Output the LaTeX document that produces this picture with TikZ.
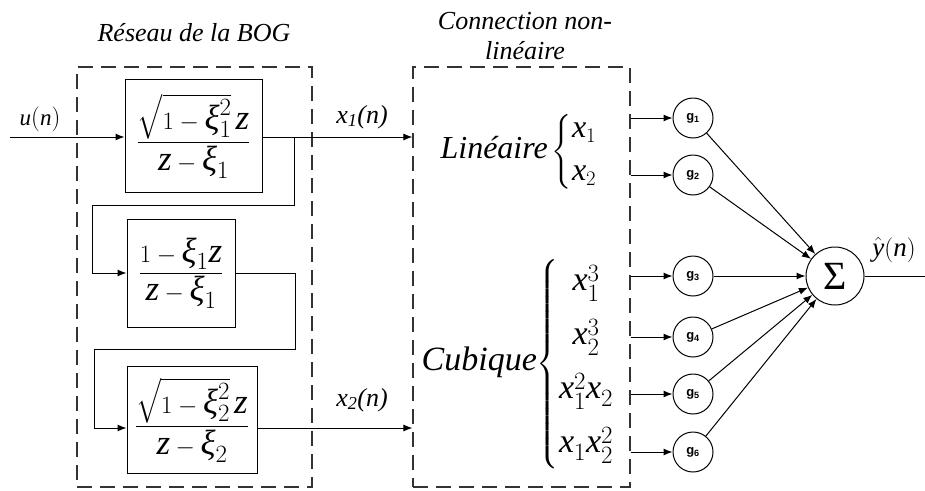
\documentclass[tikz,border=0pt]{standalone}
\usepackage{amsmath}
\usepackage{fontspec}
\setmainfont{Liberation Serif}
\setsansfont{Liberation Sans}
\usepackage{tikz}
\usetikzlibrary{arrows.meta,positioning,calc}
\definecolor{bogDash}{HTML}{333333}
\newcommand{\fsz}[1]{\fontsize{#1}{1.15\dimexpr #1pt\relax}\selectfont}
\newcommand{\vx}{\mathit{x}}
\newcommand{\vz}{\mathit{z}}
\newcommand{\vxi}{\textit{ξ}}

\begin{document}
\begin{tikzpicture}[x=1pt,y=-1pt,line width=1pt,
    arr/.style={-{Latex[length=9pt,width=7pt]}},
    dashbox/.style={draw=bogDash,line width=1.2pt,dash pattern=on 15pt off 8pt,
                    inner sep=0pt,minimum width=#1},
    blk/.style={draw,inner sep=0pt,font=\fsz{35}},
    gnode/.style={circle,draw,minimum size=40pt,inner sep=0pt,
                  font=\sffamily\bfseries\fsz{13}},
    lbl/.style={font=\fsz{26}}]
  \useasboundingbox (0,0) rectangle (925,490);

  % dashed groups
  \node[dashbox=235pt,minimum height=420pt] (bog) at (194.5,277) {};
  \node[dashbox=217pt,minimum height=420pt] (nlc) at (521.5,277) {};
  \node[lbl] (tbog) at (194,33) {\textit{Réseau de la BOG}};
  \node[lbl,align=center] (tnlc) at (525,36) {\textit{Connection non-}\\\textit{linéaire}};

  % filter bank
  \node[blk,minimum width=137pt,minimum height=113pt] (b1) at (193.5,136)
    {$\dfrac{\sqrt{1-\vxi_1^2}\,\vz}{\vz-\vxi_1}$};
  \node[blk,minimum width=108pt,minimum height=108pt] (b2) at (181,273)
    {$\dfrac{1-\vxi_1 \vz}{\vz-\vxi_1}$};
  \node[blk,minimum width=130pt,minimum height=107pt] (b3) at (192,420)
    {$\dfrac{\sqrt{1-\vxi_2^2}\,\vz}{\vz-\vxi_2}$};

  \coordinate (in) at (10,137);
  \coordinate (br1) at (294,137);
  \coordinate (fb1) at (92,205);
  \coordinate (r2) at (295,349);
  \coordinate (fb2) at (94,349);
  \coordinate (b3in) at (b3.west |- 0,428);

  \node[font=\fsz{23}] (lu) at (40,119) {$\mathit{u}(\mathit{n})$};
  \node[lbl] (lx1) at (362,117) {\textit{x\textsubscript{1}(n)}};
  \node[lbl] (lx2) at (362,400) {\textit{x\textsubscript{2}(n)}};

  \draw[arr] (in) -- (in -| b1.west);
  \draw[arr] (b1.east |- br1) -- (nlc.west |- br1);
  \draw[arr] (br1) |- (fb1) |- (b2.west);
  \draw[arr] (b2.east) -| (r2) -- (fb2) |- (b3in);
  \draw[arr] (b3.east |- b3in) -- (nlc.west |- b3in);

  % non-linear terms
  \node[font=\fsz{32}] (lin) at (519,152)
    {$\textit{Linéaire}\left\{\begin{array}{@{}l@{}}\vx_1\\[6pt]\vx_2\end{array}\right.$};
  \node[font=\fsz{34}] (cub) at (518,364)
    {$\textit{Cubique}\!\left\{\begin{array}{@{}c@{}}\vx_1^3\\[15pt]\vx_2^3\\[15pt]\vx_1^2\vx_2\\[15pt]\vx_1\vx_2^2\end{array}\right.$};

  % weights and sum
  \node[gnode] (g1) at (693,118) {g\textsubscript{1}};
  \node[gnode] (g2) at (693,175) {g\textsubscript{2}};
  \node[gnode] (g3) at (693,276) {g\textsubscript{3}};
  \node[gnode] (g4) at (693,337) {g\textsubscript{4}};
  \node[gnode] (g5) at (693,394) {g\textsubscript{5}};
  \node[gnode] (g6) at (693,452) {g\textsubscript{6}};
  \node[circle,draw,minimum size=58pt,inner sep=0pt,font=\fsz{40}] (sig) at (835,276) {Σ};
  \coordinate (out) at (925,276);
  \node[font=\fsz{27}] (ly) at (894,250) {$\hat{\mathit{y}}(\mathit{n})$};

  \foreach \i in {1,...,6} {
    \draw[arr] (nlc.east |- g\i) -- (g\i);
    \draw[arr] (g\i) -- (sig);
  }
  \draw (sig) -- (out);
\end{tikzpicture}
\end{document}
